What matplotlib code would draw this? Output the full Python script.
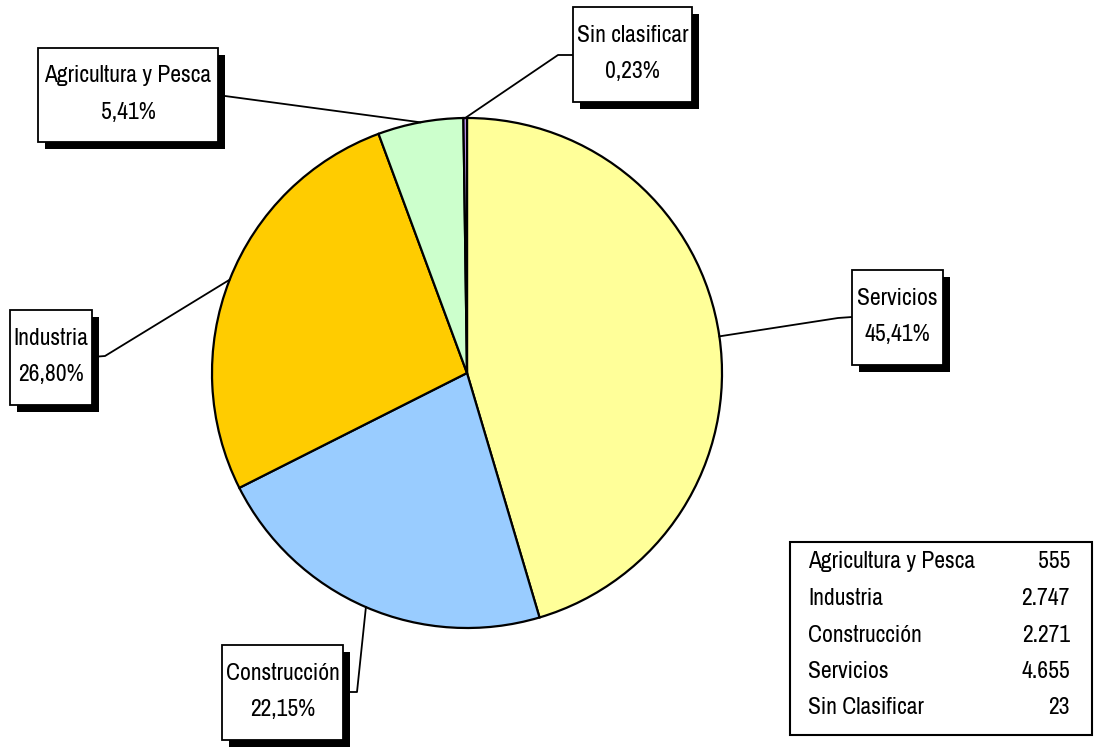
import matplotlib.pyplot as plt
from matplotlib.patches import Rectangle
import numpy as np

# slices, clockwise from 12 o'clock
categories = ['Servicios', 'Construcción', 'Industria', 'Agricultura y Pesca', 'Sin clasificar']
counts = [4655, 2271, 2747, 555, 23]
pct_labels = ['45,41%', '22,15%', '26,80%', '5,41%', '0,23%']
colors = ['#FFFF99', '#99CCFF', '#FFCC00', '#CCFFCC', '#CC99FF']

# summary table
table_names = ['Agricultura y Pesca', 'Industria', 'Construcción', 'Servicios', 'Sin Clasificar']
table_values = ['555', '2.747', '2.271', '4.655', '23']

plt.rcParams['font.family'] = ['Archivo Narrow', 'Liberation Sans', 'DejaVu Sans']

W, H = 1095, 747
FS = 17

def Y(py):
    return H - py

fig = plt.figure(figsize=(W / 100, H / 100), dpi=100)
ax = fig.add_axes([0, 0, 1, 1])

cx, cy, r = 467, Y(373), 255
wedges, _ = ax.pie(counts, colors=colors, startangle=90, counterclock=False,
                   center=(cx, cy), radius=r,
                   wedgeprops=dict(edgecolor='black', linewidth=1.6))
ax.set_xlim(0, W)
ax.set_ylim(0, H)
ax.set_aspect('auto')
ax.axis('off')

# label boxes (pixel box x0, y0, x1, y1), leader start and knee (pixel)
boxes = {
    'Servicios': ((852, 270, 943, 365), (852, 317), (838, 318)),
    'Construcción': ((222, 645, 343, 740), (343, 692), (357, 692)),
    'Industria': ((10, 310, 92, 405), (92, 357), (105, 356)),
    'Agricultura y Pesca': ((38, 48, 218, 142), (218, 96), (225, 96)),
    'Sin clasificar': ((573, 7, 692, 102), (573, 55), (558, 55)),
}

for w, name, pct in zip(wedges, categories, pct_labels):
    (x0, y0, x1, y1), start, knee = boxes[name]
    th = np.deg2rad((w.theta1 + w.theta2) / 2)
    ex, ey = cx + r * np.cos(th), cy + r * np.sin(th)
    ax.plot([start[0], knee[0], ex], [Y(start[1]), Y(knee[1]), ey],
            color='black', lw=1.3, zorder=3)
    ax.add_patch(Rectangle((x0 + 7, Y(y1 + 7)), x1 - x0, y1 - y0,
                           facecolor='black', edgecolor='none', zorder=4))
    ax.add_patch(Rectangle((x0, Y(y1)), x1 - x0, y1 - y0,
                           facecolor='white', edgecolor='black', lw=1.3, zorder=5))
    mx, my = (x0 + x1) / 2, (y0 + y1) / 2
    ax.text(mx, Y(my - 19), name, ha='center', va='center', fontsize=FS, zorder=6)
    ax.text(mx, Y(my + 17), pct, ha='center', va='center', fontsize=FS, zorder=6)

# table of counts
ax.add_patch(Rectangle((790, Y(735)), 302, 193, facecolor='white',
                       edgecolor='black', lw=1.5, zorder=4))
for i, (name, val) in enumerate(zip(table_names, table_values)):
    yy = Y(562 + i * 36.5)
    ax.text(808, yy, name, ha='left', va='center', fontsize=FS, zorder=6)
    ax.text(1070, yy, val, ha='right', va='center', fontsize=FS, zorder=6)

fig.savefig('out.png', dpi=100)
